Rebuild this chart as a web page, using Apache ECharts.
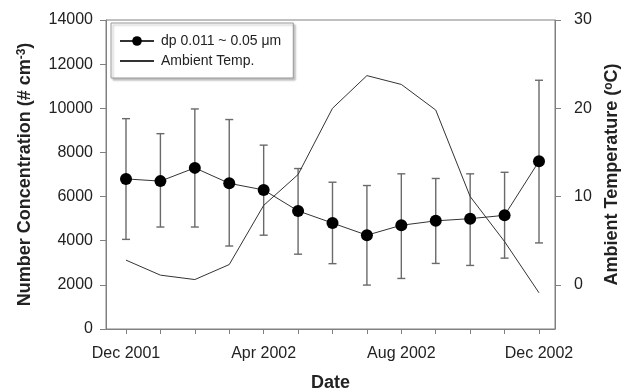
<!DOCTYPE html>
<html>
<head>
<meta charset="utf-8">
<script src="https://cdn.jsdelivr.net/npm/echarts@6/dist/echarts.min.js"></script>
<style>
  html, body { margin: 0; padding: 0; background: #fff; }
  #chart { width: 622px; height: 391px; }
</style>
</head>
<body>
<div id="chart"></div>
<script>
// months from Dec 2001 to Dec 2002, x = index
const months = ['Dec 2001', 'Jan 2002', 'Feb 2002', 'Mar 2002', 'Apr 2002', 'May 2002', 'Jun 2002',
  'Jul 2002', 'Aug 2002', 'Sep 2002', 'Oct 2002', 'Nov 2002', 'Dec 2002']
const conc = [6800, 6700, 7300, 6600, 6300, 5350, 4800, 4250, 4700, 4900, 5000, 5150, 7600]
const concHigh = [9530, 8850, 9970, 9490, 8330, 7270, 6650, 6500, 7030, 6820, 7030, 7100, 11270]
const concLow = [4060, 4620, 4620, 3760, 4250, 3390, 2960, 1990, 2290, 2970, 2880, 3210, 3900]
const temp = [2.8, 1.1, 0.6, 2.3, 9.0, 12.5, 20.0, 23.7, 22.7, 19.8, 10.0, 4.9, -0.9]
const xLabelMonths = [0, 4, 8, 12]
const leftTicks = [0, 2000, 4000, 6000, 8000, 10000, 12000, 14000]
const rightTicks = [0, 10, 20, 30]

const font = '"Liberation Sans", Arial, Helvetica, sans-serif'
const axisGray = '#808080'
const textCol = '#222'

const pts = conc.map((v, i) => [i, v])
const tempPts = temp.map((v, i) => [i, v])
const errData = conc.map((v, i) => [i, concLow[i], concHigh[i]])

const supStyle = { fontFamily: font, fontSize: 12, fontWeight: 'bold', color: textCol, verticalAlign: 'top', lineHeight: 12 }

const option = {
  animation: false,
  textStyle: { fontFamily: font },
  grid: {
    left: 106, right: 67, top: 20, bottom: 62,
    outerBoundsMode: 'none',
    show: true, borderColor: axisGray, borderWidth: 1
  },
  legend: {
    left: 111,
    top: 23,
    orient: 'vertical',
    data: [
      { name: 'dp 0.011 ~ 0.05 μm' },
      { name: 'Ambient Temp.', itemStyle: { opacity: 0 } }
    ],
    itemWidth: 34,
    itemHeight: 12,
    itemGap: 6,
    padding: [11, 12, 10, 8],
    borderColor: '#999',
    borderWidth: 1,
    shadowColor: 'rgba(0,0,0,0.25)',
    shadowBlur: 2,
    shadowOffsetX: 2,
    shadowOffsetY: 2,
    backgroundColor: '#fff',
    textStyle: { fontFamily: font, fontSize: 14, color: textCol, padding: [0, 0, 0, 2] }
  },
  xAxis: {
    type: 'value',
    min: -0.581,
    max: 12.465,
    interval: 1,
    name: 'Date',
    nameLocation: 'middle',
    nameGap: 45,
    nameTextStyle: { fontFamily: font, fontSize: 18, fontWeight: 'bold', color: textCol },
    axisLine: { onZero: false, lineStyle: { color: axisGray } },
    axisTick: { show: true, length: 5, lineStyle: { color: axisGray }, customValues: months.map((m, i) => i) },
    axisLabel: {
      customValues: xLabelMonths,
      formatter: v => months[Math.round(v)] || '',
      fontFamily: font, fontSize: 16, color: textCol, margin: 17
    },
    splitLine: { show: false }
  },
  yAxis: [
    {
      type: 'value',
      min: 0,
      max: 14000,
      interval: 2000,
      name: 'Number Concentration (# cm{sup|-3})',
      nameLocation: 'middle',
      nameGap: 72,
      nameTextStyle: {
        fontFamily: font, fontSize: 18, fontWeight: 'bold', color: textCol,
        rich: { sup: supStyle }
      },
      axisLine: { show: true, onZero: false, lineStyle: { color: axisGray } },
      axisTick: { show: true, length: 6, lineStyle: { color: axisGray }, customValues: leftTicks },
      axisLabel: { formatter: v => String(v), fontFamily: font, fontSize: 16, color: textCol, margin: 13 },
      splitLine: { show: false }
    },
    {
      type: 'value',
      min: -5,
      max: 30,
      interval: 5,
      position: 'right',
      name: 'Ambient Temperature ({sup|o}C)',
      nameLocation: 'middle',
      nameGap: 40,
      nameRotate: 90,
      nameTextStyle: {
        fontFamily: font, fontSize: 18, fontWeight: 'bold', color: textCol,
        rich: { sup: supStyle }
      },
      axisLine: { show: true, onZero: false, lineStyle: { color: axisGray } },
      axisTick: { show: true, length: 6, lineStyle: { color: axisGray }, customValues: rightTicks },
      axisLabel: { customValues: rightTicks, fontFamily: font, fontSize: 16, color: textCol, margin: 19 },
      splitLine: { show: false }
    }
  ],
  series: [
    {
      type: 'custom',
      name: 'err',
      z: 1,
      silent: true,
      data: errData,
      renderItem: function (params, api) {
        const x = api.value(0)
        const lo = api.coord([x, api.value(1)])
        const hi = api.coord([x, api.value(2)])
        const w = 4
        const style = { stroke: '#6a6a6a', lineWidth: 1.4 }
        return {
          type: 'group',
          children: [
            { type: 'line', shape: { x1: lo[0], y1: lo[1], x2: hi[0], y2: hi[1] }, style },
            { type: 'line', shape: { x1: lo[0] - w, y1: lo[1], x2: lo[0] + w, y2: lo[1] }, style },
            { type: 'line', shape: { x1: hi[0] - w, y1: hi[1], x2: hi[0] + w, y2: hi[1] }, style }
          ]
        }
      }
    },
    {
      type: 'line',
      name: 'Ambient Temp.',
      yAxisIndex: 1,
      data: tempPts,
      symbol: 'none',
      z: 2,
      lineStyle: { color: '#333', width: 1 },
      itemStyle: { color: '#333' }
    },
    {
      type: 'line',
      name: 'dp 0.011 ~ 0.05 μm',
      data: pts,
      symbol: 'circle',
      symbolSize: 12,
      z: 3,
      lineStyle: { color: '#333', width: 1 },
      itemStyle: { color: '#000' }
    }
  ]
}

const myChart = echarts.init(document.getElementById('chart'))
myChart.setOption(option)
</script>
</body>
</html>
